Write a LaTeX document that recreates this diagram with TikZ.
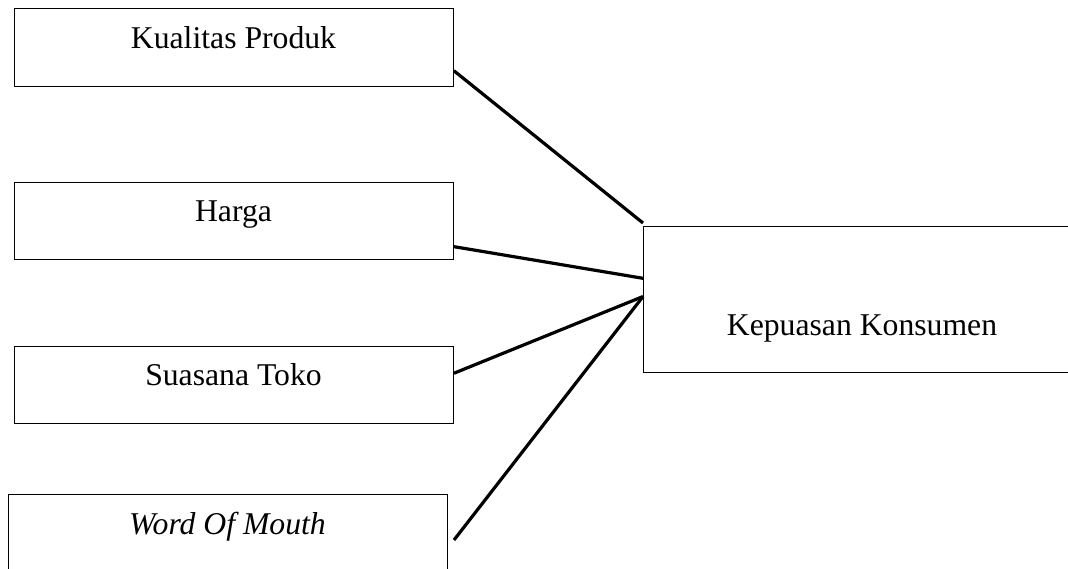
\documentclass[tikz,border=0pt]{standalone}
\usepackage{fontspec}
\setmainfont{Liberation Serif}
\usetikzlibrary{calc}
\begin{document}
\begin{tikzpicture}[x=1pt,y=-1pt,
  box/.style={draw,line width=0.9pt,inner sep=0pt,anchor=north west},
  lbl/.style={font=\fontsize{31.7}{38}\selectfont,anchor=base,inner sep=0pt},
  link/.style={line width=3.2pt}]
\useasboundingbox (0,0) rectangle (1068,568);
\clip (0,0) rectangle (1068,568);
% boxes
\node[box,minimum width=439pt,minimum height=78pt] (kp) at (14,8) {};
\node[box,minimum width=439pt,minimum height=77pt] (hg) at (14,182) {};
\node[box,minimum width=439pt,minimum height=77pt] (st) at (14,346) {};
\node[box,minimum width=439pt,minimum height=90pt] (wm) at (8,494) {};
\node[box,minimum width=438pt,minimum height=146pt] (ks) at (643,226) {};
% labels
\node[lbl] (kpt) at (233.5,48) {Kualitas Produk};
\node[lbl] (hgt) at (233.5,221) {Harga};
\node[lbl] (stt) at (233.5,385) {Suasana Toko};
\node[lbl] (wmt) at (227.5,534) {\itshape Word Of Mouth};
\node[lbl] (kst) at (862,335) {Kepuasan Konsumen};
% connectors
\coordinate (w0) at (454,540);
\coordinate (k1) at ($(ks.north west)+(0,-3)$);
\coordinate (k2) at ($(ks.north west)!0.356!(ks.south west)$);
\coordinate (k3) at ($(ks.north west)!0.48!(ks.south west)$);
\draw[link] ($(kp.north east)!0.795!(kp.south east)$) -- (k1);
\draw[link] ($(hg.north east)!0.83!(hg.south east)$) -- (k2);
\draw[link] ($(st.north east)!0.35!(st.south east)$) -- (k3);
\draw[link] (w0) -- (k3);
\end{tikzpicture}
\end{document}
